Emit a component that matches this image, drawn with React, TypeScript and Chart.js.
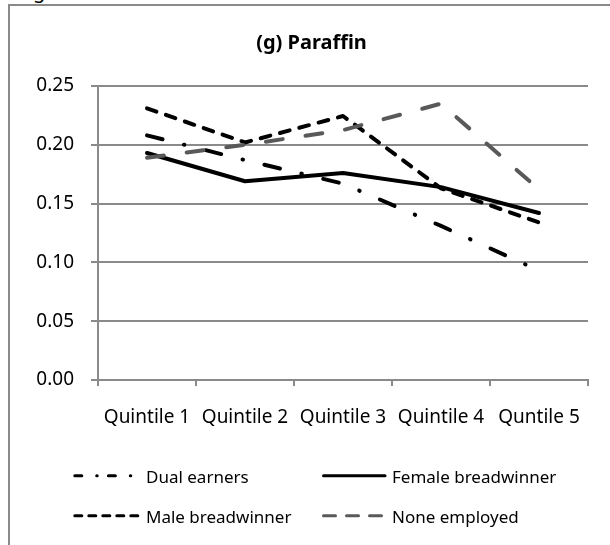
import React, { useEffect, useRef } from 'react';
import { Chart, registerables } from 'chart.js';

Chart.register(...registerables);

const categories = ['Quintile 1', 'Quintile 2', 'Quintile 3', 'Quintile 4', 'Quntile 5'];
const dualEarners = [0.208, 0.187, 0.167, 0.131, 0.093];
const femaleBreadwinner = [0.193, 0.169, 0.176, 0.164, 0.142];
const maleBreadwinner = [0.231, 0.202, 0.2245, 0.163, 0.134];
const noneEmployed = [0.189, 0.2, 0.2125, 0.235, 0.162];
const yTicks = [0, 0.05, 0.1, 0.15, 0.2, 0.25];
const seriesNames = ['Dual earners', 'Female breadwinner', 'Male breadwinner', 'None employed'];
const chartTitle = '(g) Paraffin';

const FONT = "'Noto Sans', sans-serif";
const GRID = '#8a8a8a';
const GRAYLINE = '#595959';

const titlePlugin = {
  id: 'fixedTitle',
  afterDraw(chart: any) {
    const ctx = chart.ctx;
    ctx.save();
    ctx.font = `bold 20px ${FONT}`;
    ctx.fillStyle = '#000';
    ctx.textAlign = 'center';
    ctx.textBaseline = 'alphabetic';
    ctx.fillText(chartTitle, 301.5, 43);
    ctx.restore();
  },
};

const legendPlugin = {
  id: 'gridLegend',
  afterDraw(chart: any) {
    const ctx = chart.ctx;
    const ds = chart.data.datasets;
    const items = [
      { i: 0, x0: 64.8, x1: 132, y: 469.7, tx: 136, ty: 477.3, dash: [7, 14.9, 0.5, 11.2] },
      { i: 1, x0: 313.5, x1: 375, y: 469.7, tx: 382, ty: 477.3, dash: [] },
      { i: 2, x0: 64.8, x1: 132, y: 509.7, tx: 136, ty: 517.3, dash: [7, 7] },
      { i: 3, x0: 313.5, x1: 374, y: 509.7, tx: 382, ty: 517.3, dash: [12, 11] },
    ];
    ctx.save();
    for (const it of items) {
      const d = ds[it.i];
      ctx.beginPath();
      ctx.strokeStyle = d.borderColor;
      ctx.lineWidth = 3;
      ctx.lineCap = 'round';
      ctx.setLineDash(it.dash);
      ctx.moveTo(it.x0, it.y);
      ctx.lineTo(it.x1, it.y);
      ctx.stroke();
      ctx.setLineDash([]);
      ctx.font = `17px ${FONT}`;
      ctx.fillStyle = '#000';
      ctx.textAlign = 'left';
      ctx.textBaseline = 'alphabetic';
      ctx.fillText(d.label, it.tx, it.ty);
    }
    ctx.restore();
  },
};

export default function App() {
  const ref = useRef<HTMLCanvasElement>(null);

  useEffect(() => {
    const canvas = ref.current;
    if (!canvas) return;
    const common = {
      borderWidth: 4,
      borderCapStyle: 'round' as const,
      borderJoinStyle: 'round' as const,
      pointRadius: 0,
      pointHoverRadius: 0,
      tension: 0,
      fill: false,
    };
    const chart = new Chart(canvas, {
      type: 'line',
      data: {
        labels: categories,
        datasets: [
          { ...common, label: seriesNames[0], data: dualEarners, borderColor: '#000', borderDash: [16, 22, 0.5, 22], order: 4 },
          { ...common, label: seriesNames[1], data: femaleBreadwinner, borderColor: '#000', borderDash: [], order: 3 },
          { ...common, label: seriesNames[2], data: maleBreadwinner, borderColor: '#000', borderDash: [10, 10], order: 2 },
          { ...common, label: seriesNames[3], data: noneEmployed, borderColor: GRAYLINE, borderDash: [17, 23], order: 1 },
        ],
      },
      options: {
        responsive: false,
        animation: false,
        devicePixelRatio: 1,
        layout: { padding: { left: 0, right: 22, top: 80, bottom: 105 } },
        plugins: {
          legend: { display: false },
          title: { display: false },
          tooltip: { enabled: false },
        },
        scales: {
          x: {
            type: 'category',
            offset: true,
            grid: { offset: true, drawOnChartArea: false, drawTicks: true, tickLength: 6, color: GRID, lineWidth: 2 },
            border: { display: true, color: GRID, width: 2 },
            ticks: {
              font: { family: FONT, size: 19 },
              color: '#000',
              padding: 20,
              maxRotation: 0,
              minRotation: 0,
              autoSkip: false,
            },
            afterFit: (s: any) => {
              s.height = 60;
            },
          },
          y: {
            min: 0,
            max: 0.25,
            afterBuildTicks: (s: any) => {
              s.ticks = yTicks.map((v) => ({ value: v }));
            },
            grid: { color: GRID, lineWidth: 2, tickLength: 7, drawTicks: true },
            border: { display: true, color: GRID, width: 2 },
            ticks: {
              font: { family: FONT, size: 19 },
              color: '#000',
              padding: 17,
              callback: (v: any) => Number(v).toFixed(2),
            },
            afterFit: (s: any) => {
              s.width = 88;
            },
          },
        },
      },
      plugins: [titlePlugin, legendPlugin],
    });
    return () => chart.destroy();
  }, []);

  return (
    <div style={{ position: 'absolute', left: 0, top: 0, width: 610, height: 545, overflow: 'hidden', background: '#fff' }}>
      <div
        style={{
          position: 'absolute',
          left: 33,
          top: -19,
          fontFamily: FONT,
          fontSize: 20,
          lineHeight: '20px',
          color: '#000',
        }}
      >
        g
      </div>
      <div
        style={{
          position: 'absolute',
          left: 8,
          top: 4,
          width: 600,
          height: 539,
          borderTop: `2px solid ${GRID}`,
          borderLeft: `2px solid ${GRID}`,
          background: '#fff',
        }}
      >
        <canvas ref={ref} width={600} height={539} style={{ display: 'block' }} />
      </div>
    </div>
  );
}
